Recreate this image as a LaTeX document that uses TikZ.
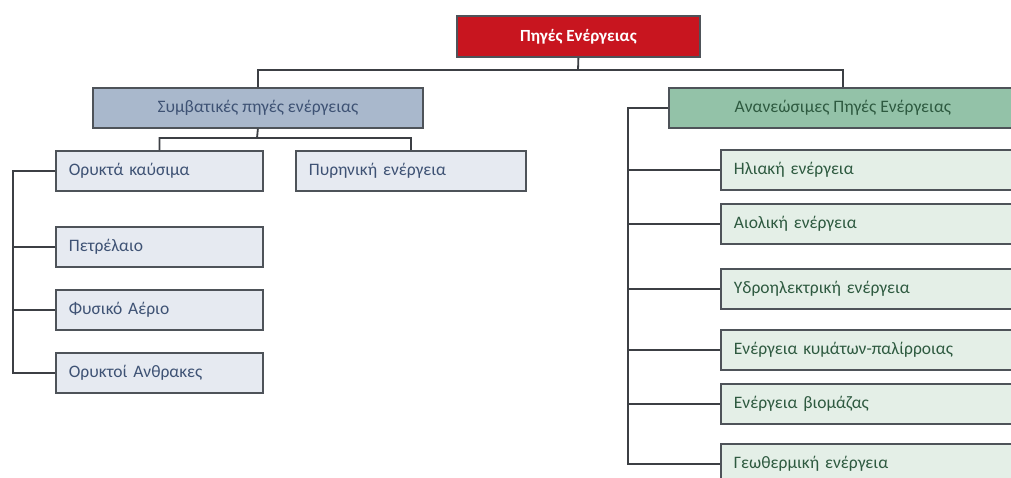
\documentclass[tikz,border=0pt]{standalone}
\usepackage{fontspec}
\setmainfont{Carlito}
\definecolor{topred}{HTML}{C8151F}
\definecolor{symfill}{HTML}{A9B8CC}
\definecolor{lfill}{HTML}{E6EAF1}
\definecolor{renfill}{HTML}{93C2A8}
\definecolor{rfill}{HTML}{E4EFE7}
\definecolor{edge}{HTML}{4E5359}
\definecolor{ltext}{HTML}{3E5274}
\definecolor{rtext}{HTML}{2E5A40}
\definecolor{wire}{HTML}{3C3F44}
\tikzset{
  boxbase/.style={draw=edge, line width=1.8pt, minimum height=40pt, anchor=north west, font=\fontsize{17.5}{19}\selectfont},
  hbox/.style={boxbase, align=center, inner xsep=0pt},
  lbox/.style={boxbase, fill=lfill, text=ltext, align=left, inner xsep=13pt},
  rbox/.style={boxbase, fill=rfill, text=rtext, align=left, inner xsep=13pt},
  wirestyle/.style={draw=wire, line width=1.8pt},
}
\begin{document}
\begin{tikzpicture}[x=1pt,y=-1pt]
\clip (0,0) rectangle (1011,477);
\fill[white] (0,0) rectangle (1011,477);
% nodes
\node[hbox, fill=topred, text=white, minimum width=243pt, minimum height=41pt, font=\fontsize{17}{19}\selectfont\bfseries] (top) at (456,15) {Πηγές Ενέργειας};
\node[hbox, fill=symfill, text=ltext, minimum width=330pt] (sym) at (92,87) {Συμβατικές πηγές ενέργειας};
\node[hbox, fill=renfill, text=rtext, minimum width=348pt] (ren) at (668,87) {Ανανεώσιμες Πηγές Ενέργειας};
\node[lbox, text width=181pt] (oryk) at (55,150) {Ορυκτά καύσιμα};
\node[lbox, text width=204pt] (pyr) at (295,150) {Πυρηνική ενέργεια};
\node[lbox, text width=181pt] (petr) at (55,226) {Πετρέλαιο};
\node[lbox, text width=181pt] (fys) at (55,289) {Φυσικό Αέριο};
\node[lbox, text width=181pt] (anth) at (55,352) {Ορυκτοί Ανθρακες};
\node[rbox, text width=270pt] (ilia) at (720,149) {Ηλιακή ενέργεια};
\node[rbox, text width=270pt] (aiol) at (720,203) {Αιολική ενέργεια};
\node[rbox, text width=270pt] (ydro) at (720,268) {Υδροηλεκτρική ενέργεια};
\node[rbox, text width=270pt] (kym) at (720,329) {Ενέργεια κυμάτων-παλίρροιας};
\node[rbox, text width=270pt] (bio) at (720,383) {Ενέργεια βιομάζας};
\node[rbox, text width=270pt] (geo) at (720,443) {Γεωθερμική ενέργεια};
% coordinates for bus lines
\coordinate (bus1) at (578,70);
\coordinate (bus2) at (257,138);
\coordinate (lspine) at (13,0);
\coordinate (rspine) at (628,0);
% connectors
\draw[wirestyle] (top.south) -- (bus1) -| (sym.north);
\draw[wirestyle] (bus1) -| (ren.north);
\draw[wirestyle] (sym.south) -- (bus2) -| (oryk.north);
\draw[wirestyle] (bus2) -| (pyr.north);
\draw[wirestyle] (oryk.west) -- (oryk.west -| lspine) |- (anth.west);
\draw[wirestyle] (petr.west -| lspine) -- (petr.west);
\draw[wirestyle] (fys.west -| lspine) -- (fys.west);
\draw[wirestyle] (ren.west) -- (ren.west -| rspine) |- (geo.west);
\foreach \n in {ilia,aiol,ydro,kym,bio}
  \draw[wirestyle] (\n.west -| rspine) -- (\n.west);
\end{tikzpicture}
\end{document}
